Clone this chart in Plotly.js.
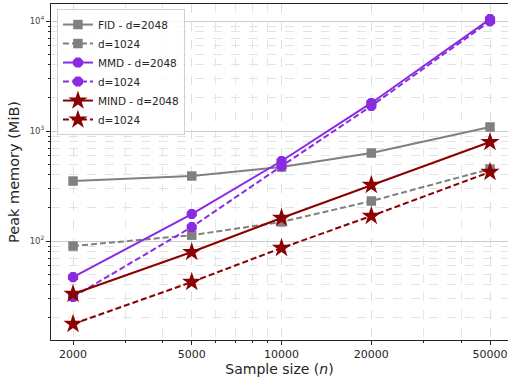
<!DOCTYPE html>
<html>
<head>
<meta charset="utf-8">
<script src="https://cdn.plot.ly/plotly-3.0.1.min.js"></script>
<style>
html,body{margin:0;padding:0;background:#fff;}
#chart{width:508px;height:379px;}
</style>
</head>
<body>
<div id="chart"></div>
<script>
const sampleSizes = [2000, 5000, 10000, 20000, 50000];
const fid2048 = [351, 390, 471, 631, 1088];
const fid1024 = [90, 113, 149, 231, 451];
const mmd2048 = [47, 176, 534, 1800, 10400];
const mmd1024 = [31, 134, 480, 1690, 10000];
const mind2048 = [33, 79.4, 162, 323, 794];
const mind1024 = [17.6, 42.4, 86.4, 169, 424];

const xTickVals = [2000, 5000, 10000, 20000, 50000];
const xTickText = ['2000', '5000', '10000', '20000', '50000'];
const xMinorVals = [3000, 4000, 6000, 7000, 8000, 9000, 30000, 40000];
const yTickVals = [100, 1000, 10000];
const yTickText = ['10<sup>2</sup>', '10<sup>3</sup>', '10<sup>4</sup>'];
const yMinorVals = [20,30,40,50,60,70,80,90,200,300,400,500,600,700,800,900,2000,3000,4000,5000,6000,7000,8000,9000];

const GRAY = '#808080', VIOLET = '#8A2BE2', RED = '#8B0000';
const DASH = '6px,3px';

function tr(y, name, color, dash, symbol, size) {
  return {
    x: sampleSizes, y: y, name: name, type: 'scatter', mode: 'lines+markers',
    line: {color: color, width: 2, dash: dash},
    marker: {color: color, symbol: symbol, size: size, line: {width: 0}}
  };
}

const data = [
  tr(fid2048, 'FID - d=2048', GRAY, 'solid', 'square', 9.5),
  tr(fid1024, 'd=1024', GRAY, DASH, 'square', 9.5),
  tr(mmd2048, 'MMD - d=2048', VIOLET, 'solid', 'octagon', 11),
  tr(mmd1024, 'd=1024', VIOLET, DASH, 'octagon', 11),
  tr(mind2048, 'MIND - d=2048', RED, 'solid', 'star', 14.5),
  tr(mind1024, 'd=1024', RED, DASH, 'star', 14.5)
];

const layout = {
  width: 508, height: 379,
  margin: {l: 51, r: 0, t: 4, b: 39},
  paper_bgcolor: '#fff', plot_bgcolor: '#fff',
  font: {family: 'DejaVu Sans, sans-serif', color: '#262626'},
  showlegend: true,
  legend: {
    x: 0.013, y: 0.985, xanchor: 'left', yanchor: 'top',
    bgcolor: 'rgba(255,255,255,0.85)', bordercolor: '#d0d0d0', borderwidth: 1,
    font: {size: 10.5, color: '#262626'}, tracegroupgap: 0
  },
  xaxis: {
    type: 'log', range: [Math.log10(1687), Math.log10(57450)],
    tickmode: 'array', tickvals: xTickVals, ticktext: xTickText,
    ticks: 'outside', ticklen: 4, tickcolor: '#262626', tickwidth: 1,
    tickfont: {size: 11, color: '#262626'},
    showgrid: true, gridcolor: '#dedede', griddash: 'dash', gridwidth: 1,
    minor: {tickmode: 'array', tickvals: xMinorVals, ticks: 'outside', ticklen: 2, tickcolor: '#262626',
            showgrid: true, gridcolor: '#e6e6e6', griddash: 'dash', gridwidth: 1},
    showline: true, linecolor: '#262626', linewidth: 1, mirror: true,
    zeroline: false,
    title: {text: 'Sample size (<i>n</i>)', font: {size: 14, color: '#262626'}, standoff: 3}
  },
  yaxis: {
    type: 'log', range: [1.1, 4.155],
    tickmode: 'array', tickvals: yTickVals, ticktext: yTickText,
    ticks: 'outside', ticklen: 4, tickcolor: '#262626', tickwidth: 1,
    tickfont: {size: 8.5, color: '#444'},
    showgrid: true, gridcolor: '#cccccc', gridwidth: 1,
    minor: {tickmode: 'array', tickvals: yMinorVals, ticks: 'outside', ticklen: 2, tickcolor: '#262626',
            showgrid: true, gridcolor: '#e3e3e3', griddash: 'dash', gridwidth: 1},
    showline: true, linecolor: '#262626', linewidth: 1, mirror: false,
    zeroline: false,
    title: {text: 'Peak memory (MiB)', font: {size: 14.5, color: '#262626'}, standoff: 6}
  }
};

Plotly.newPlot('chart', data, layout, {displayModeBar: false, staticPlot: true});
</script>
</body>
</html>
